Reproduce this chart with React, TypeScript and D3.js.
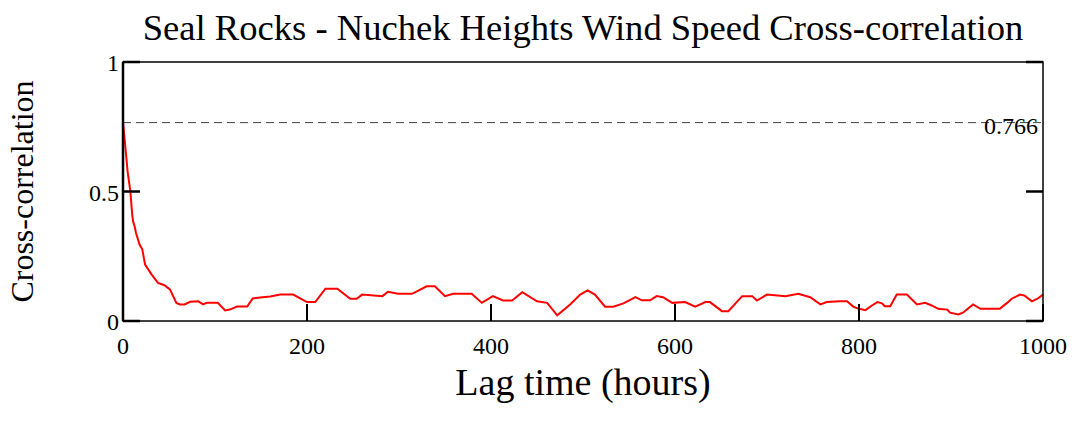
import React from "react";
import * as d3 from "d3";

// Lag (hours) and cross-correlation coefficient at each vertex of the trace
const lagHours = [0, 2, 5, 8, 10, 11, 13, 14, 18, 21, 24, 31, 38, 45, 51, 58, 62, 67, 73, 82, 87, 91, 103, 111, 116, 124, 135, 141, 149, 160, 171, 185, 200, 209, 220, 233, 247, 254, 260, 282, 288, 299, 314, 320, 330, 339, 350, 359, 379, 390, 402, 413, 423, 434, 450, 461, 472, 486, 497, 505, 513, 524, 533, 544, 557, 564, 573, 580, 587, 597, 611, 622, 633, 638, 651, 658, 673, 684, 689, 700, 720, 734, 747, 758, 765, 779, 787, 794, 799, 807, 814, 820, 825, 828, 834, 841, 852, 863, 872, 879, 886, 896, 899, 908, 913, 924, 932, 953, 961, 966, 975, 980, 988, 994, 1000];
const crossCorr = [0.766, 0.694, 0.578, 0.501, 0.411, 0.385, 0.36, 0.342, 0.295, 0.276, 0.218, 0.18, 0.147, 0.138, 0.122, 0.07, 0.064, 0.064, 0.074, 0.076, 0.064, 0.07, 0.07, 0.041, 0.044, 0.056, 0.056, 0.087, 0.091, 0.095, 0.102, 0.102, 0.073, 0.073, 0.125, 0.125, 0.086, 0.086, 0.102, 0.096, 0.113, 0.105, 0.105, 0.115, 0.134, 0.134, 0.096, 0.105, 0.105, 0.07, 0.096, 0.079, 0.079, 0.111, 0.076, 0.07, 0.022, 0.064, 0.102, 0.118, 0.102, 0.055, 0.055, 0.068, 0.092, 0.08, 0.08, 0.096, 0.092, 0.07, 0.073, 0.055, 0.073, 0.073, 0.038, 0.038, 0.096, 0.096, 0.079, 0.102, 0.096, 0.105, 0.092, 0.064, 0.073, 0.076, 0.076, 0.055, 0.048, 0.042, 0.06, 0.073, 0.068, 0.057, 0.057, 0.102, 0.102, 0.064, 0.07, 0.06, 0.047, 0.044, 0.032, 0.025, 0.032, 0.064, 0.047, 0.047, 0.07, 0.086, 0.102, 0.098, 0.076, 0.086, 0.102];

const xTicks = [0, 200, 400, 600, 800, 1000];
const yTicks = [0, 0.5, 1];
const yTickLabels = ["0", "0.5", "1"];
const peakValue = 0.766;
const peakLabel = "0.766";

const titleText = "Seal Rocks - Nuchek Heights Wind Speed Cross-correlation";
const xTitle = "Lag time (hours)";
const yTitle = "Cross-correlation";

const W = 1076;
const H = 427;
const plot = { left: 123, right: 1043, top: 62, bottom: 321 };
const font = "'Liberation Serif', 'Times New Roman', serif";

export default function App() {
  const x = d3.scaleLinear().domain([0, 1000]).range([plot.left, plot.right]);
  const y = d3.scaleLinear().domain([0, 1]).range([plot.bottom, plot.top]);

  const points: [number, number][] = lagHours.map((l, i) => [l, crossCorr[i]]);
  const path = d3
    .line<[number, number]>()
    .x((d) => x(d[0]))
    .y((d) => y(d[1]))(points);

  const tickLen = 17;
  const cx = (plot.left + plot.right) / 2;
  const cy = (plot.top + plot.bottom) / 2;

  return (
    <svg
      width={W}
      height={H}
      style={{ position: "absolute", left: 0, top: 0, background: "#fff" }}
      fontFamily={font}
    >
      <rect x={0} y={0} width={W} height={H} fill="#fff" />
      <text x={cx} y={40} fontSize={36.6} textAnchor="middle" fill="#000">
        {titleText}
      </text>

      {/* reference line at the zero-lag correlation */}
      <line
        x1={plot.left}
        x2={plot.right}
        y1={y(peakValue)}
        y2={y(peakValue)}
        stroke="#444"
        strokeWidth={1}
        strokeDasharray="8,5"
      />
      <text x={plot.right - 5} y={y(peakValue) + 11} fontSize={24} textAnchor="end" fill="#000">
        {peakLabel}
      </text>

      <path d={path ?? ""} fill="none" stroke="#ff0000" strokeWidth={2} />

      {/* frame */}
      <rect
        x={plot.left}
        y={plot.top}
        width={plot.right - plot.left}
        height={plot.bottom - plot.top}
        fill="none"
        stroke="#000"
        strokeWidth={1.5}
      />
      <line x1={plot.left} x2={plot.left} y1={plot.top} y2={plot.bottom} stroke="#000" strokeWidth={2.5} />

      {/* inward ticks */}
      {xTicks.map((t) => (
        <line key={"xt" + t} x1={x(t)} x2={x(t)} y1={plot.bottom} y2={plot.bottom - tickLen} stroke="#000" strokeWidth={2} />
      ))}
      {yTicks.map((t) => (
        <g key={"yt" + t}>
          <line x1={plot.left} x2={plot.left + tickLen} y1={y(t)} y2={y(t)} stroke="#000" strokeWidth={2.5} />
          <line x1={plot.right} x2={plot.right - tickLen} y1={y(t)} y2={y(t)} stroke="#000" strokeWidth={2.5} />
        </g>
      ))}

      {/* tick labels */}
      {xTicks.map((t) => (
        <text key={"xl" + t} x={x(t)} y={354} fontSize={24} textAnchor="middle" fill="#000">
          {String(t)}
        </text>
      ))}
      {yTicks.map((t, i) => (
        <text key={"yl" + t} x={119} y={y(t) + 9} fontSize={24} textAnchor="end" fill="#000">
          {yTickLabels[i]}
        </text>
      ))}

      <text x={cx} y={395} fontSize={38} textAnchor="middle" fill="#000">
        {xTitle}
      </text>
      <text
        transform={`translate(33,${cy}) rotate(-90)`}
        fontSize={32}
        textAnchor="middle"
        fill="#000"
      >
        {yTitle}
      </text>
    </svg>
  );
}
